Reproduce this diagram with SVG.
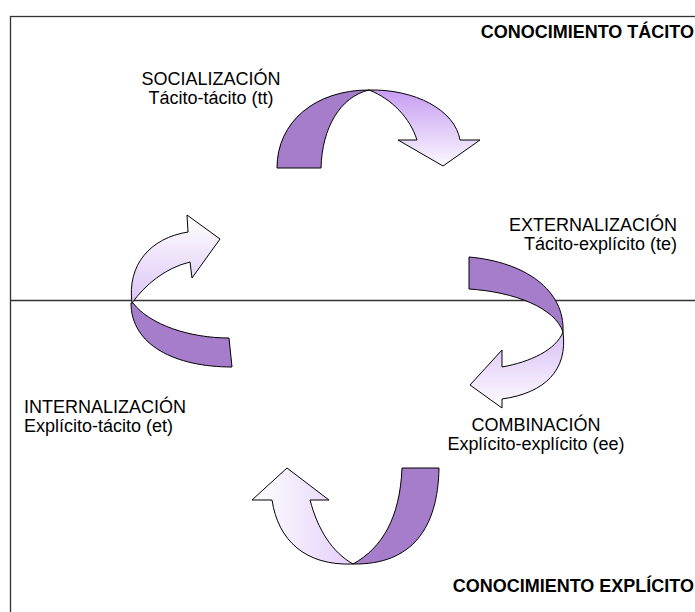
<svg xmlns="http://www.w3.org/2000/svg" width="695" height="612" viewBox="0 0 695 612">
<style>
.frame{fill:none;stroke:#333;stroke-width:1.3}
.dark{fill:#a57dcb;stroke:#000;stroke-width:1}
.lt{stroke:#000;stroke-width:1}
.t{font-family:"Liberation Sans",Arial,sans-serif;font-size:18px;fill:#000}
.b{font-family:"Liberation Sans",Arial,sans-serif;font-size:18px;font-weight:bold;fill:#000}
</style>
<defs>
<linearGradient id="g1" x1="0" y1="0" x2="0" y2="1"><stop offset="0" stop-color="#c69cf2"/><stop offset="1" stop-color="#fbf8ff"/></linearGradient>
<linearGradient id="g2" x1="0" y1="0" x2="0" y2="1"><stop offset="0" stop-color="#d9c0f6"/><stop offset="1" stop-color="#fdfbff"/></linearGradient>
<linearGradient id="g3" x1="0" y1="0" x2="1" y2="0"><stop offset="0" stop-color="#ffffff"/><stop offset="1" stop-color="#e3cff9"/></linearGradient>
<linearGradient id="g4" x1="0" y1="0" x2="0" y2="1"><stop offset="0" stop-color="#ffffff"/><stop offset="1" stop-color="#dcc5f6"/></linearGradient>
</defs>
<g id="frame">
<rect class="frame" x="10.5" y="16.5" width="700" height="620"/>
<line class="frame" x1="10" y1="300.5" x2="695" y2="300.5"/>
</g>
<g id="labels">
<text class="b" x="694" y="38" text-anchor="end">CONOCIMIENTO TÁCITO</text>
<text class="b" x="694" y="592" text-anchor="end">CONOCIMIENTO EXPLÍCITO</text>
</g>
<g id="connectors">
<g id="arrow-socializacion">
<path class="dark" d="M277,168 C277,122 315,90 369,90 C340,97 322,128 321,168 Z"/>
<path class="lt" fill="url(#g1)" d="M369,90 C415,89 455,110 460,140 L480,140 L443,166 L398,140 L417,140 C410,118 392,99 369,90 Z"/>
</g>
<g id="arrow-externalizacion">
<path class="dark" d="M469,257 C525,262 565,290 563,332 C555,308 515,292 469,289 Z"/>
<path class="lt" fill="url(#g2)" d="M563,332 C568,370 545,393 502,399 L502,408 L470,385 L502,350 L502,367 C530,362 556,350 563,332 Z"/>
</g>
<g id="arrow-combinacion">
<path class="dark" d="M402,468 L439,468 C438,528 412,565 353,564 C382,548 400,518 402,468 Z"/>
<path class="lt" fill="url(#g3)" d="M353,564 C305,566 278,540 272,500 L252,500 L287,468 L329,500 L310,500 C318,530 332,552 353,564 Z"/>
</g>
<g id="arrow-internalizacion">
<path class="dark" d="M133,303 C150,325 190,338 229,338 L232,367 C175,367 131,345 131,303 Z"/>
<path class="lt" fill="url(#g4)" d="M132,303 C127,265 150,238 188,232 L187,215 L220,239 L192,278 L190,262 C165,268 145,285 132,303 Z"/>
</g>
</g>
<g id="socializacion">
<text class="t" x="211" y="85" text-anchor="middle">SOCIALIZACIÓN</text>
<text class="t" x="211" y="104" text-anchor="middle">Tácito-tácito (tt)</text>
</g>
<g id="externalizacion">
<text class="t" x="677" y="231" text-anchor="end">EXTERNALIZACIÓN</text>
<text class="t" x="677" y="250" text-anchor="end">Tácito-explícito (te)</text>
</g>
<g id="internalizacion">
<text class="t" x="24" y="413">INTERNALIZACIÓN</text>
<text class="t" x="24" y="432">Explícito-tácito (et)</text>
</g>
<g id="combinacion">
<text class="t" x="536" y="431" text-anchor="middle">COMBINACIÓN</text>
<text class="t" x="536" y="450" text-anchor="middle">Explícito-explícito (ee)</text>
</g>
</svg>
